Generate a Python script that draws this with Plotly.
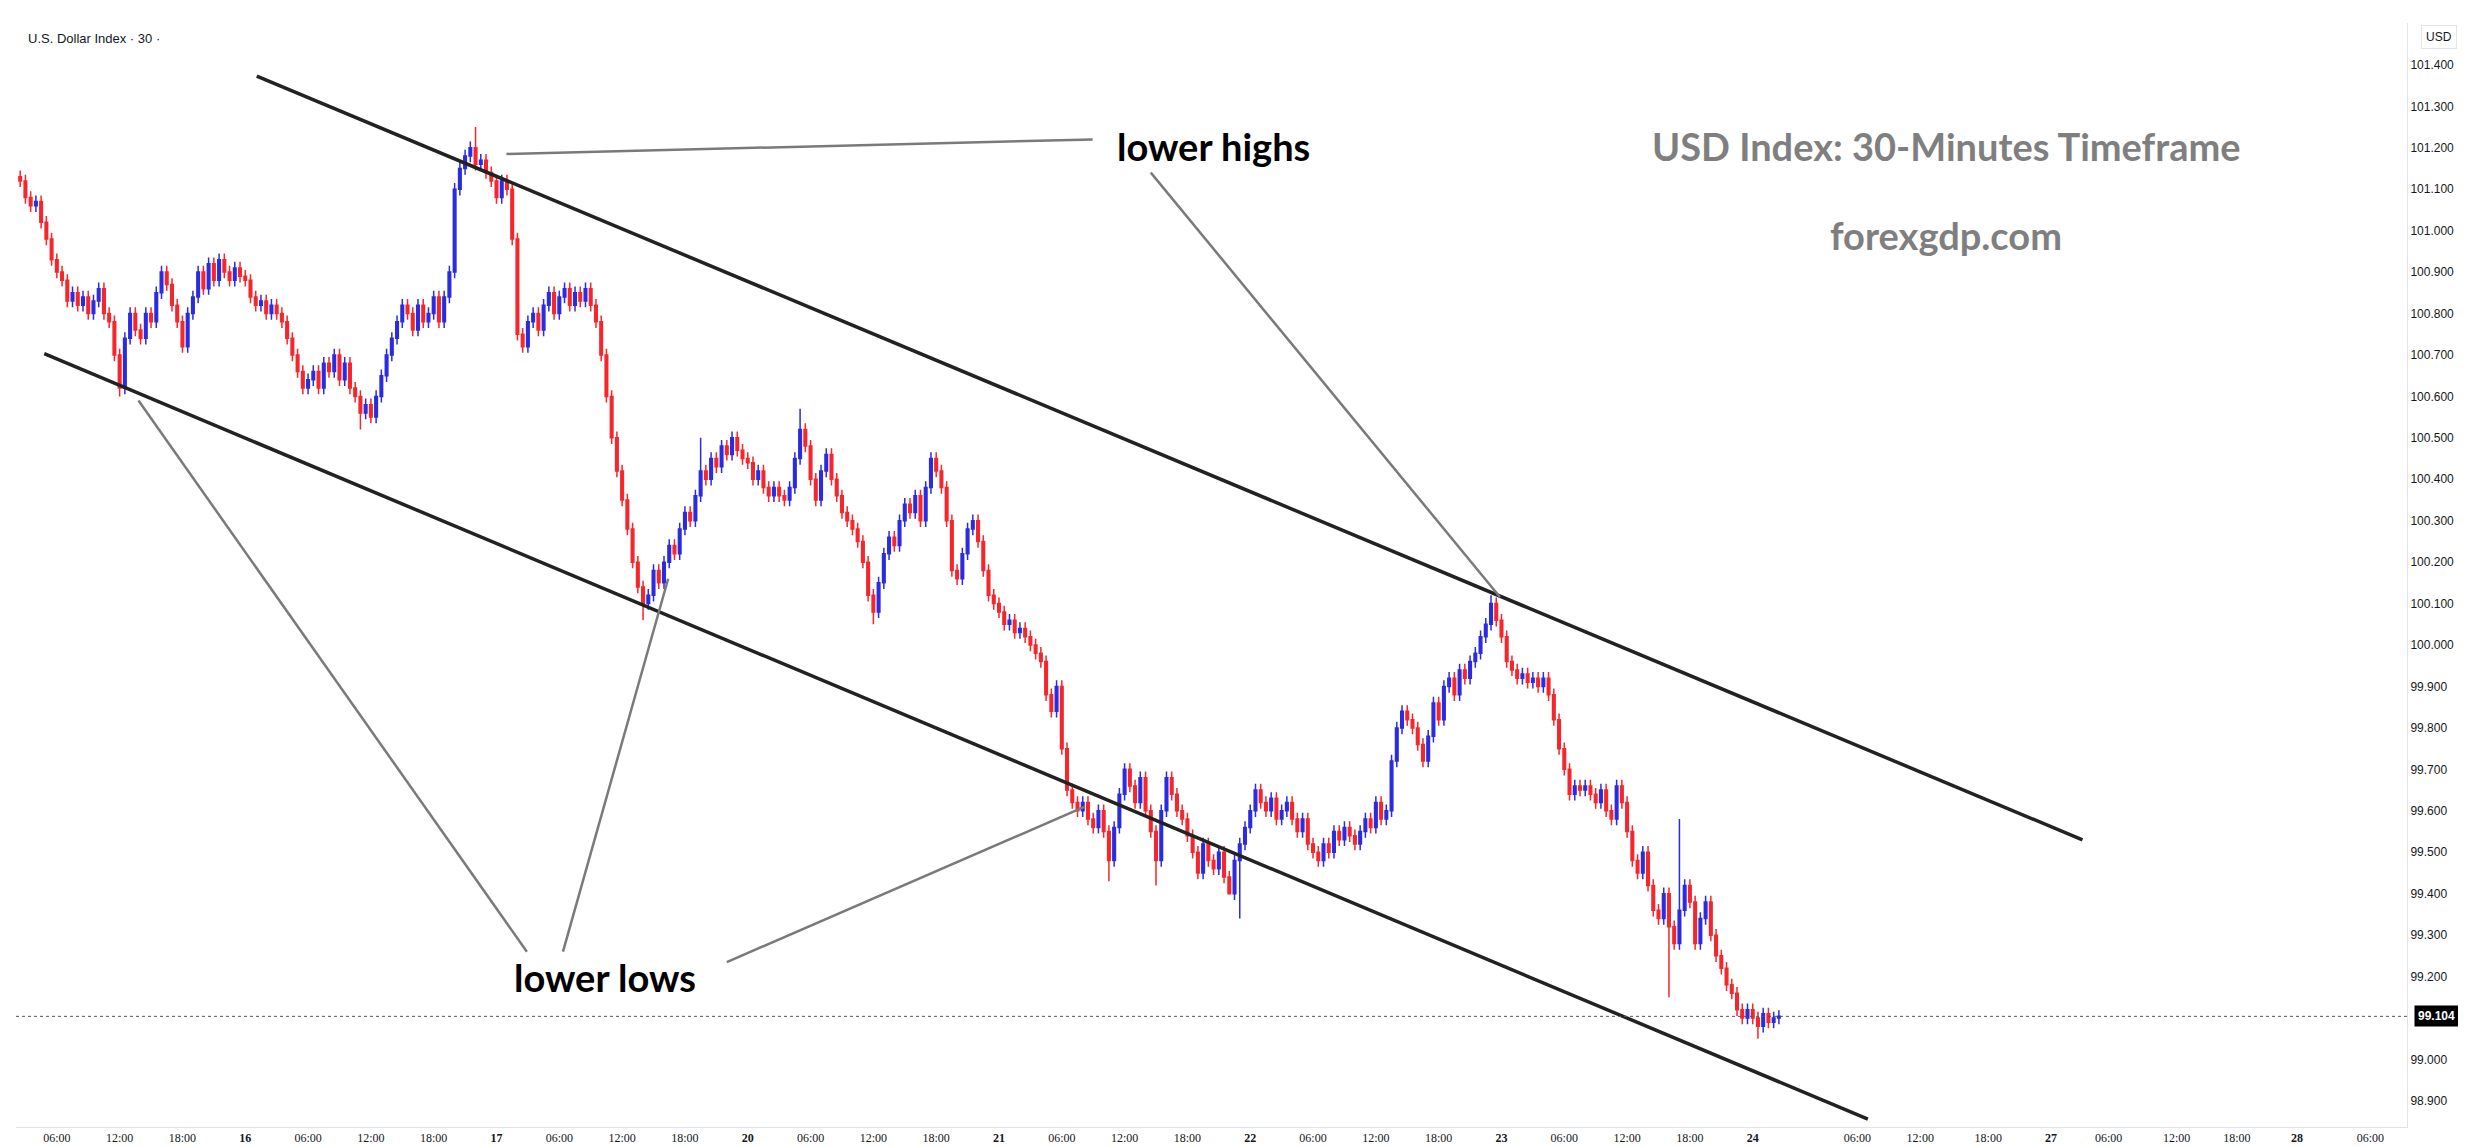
import plotly.graph_objects as go

# ---- data (30-minute closes) ----
day_starts = [5, 48, 96, 144, 192, 240, 288, 336]
closes_15 = [101.12,101.08,101.06,101.07,101.02,100.98,100.93,100.90,100.88,100.83,100.85,100.82,100.84,100.80,100.83,100.86,100.80,100.78,100.70,100.62,100.74,100.80,100.76,100.74,100.80,100.78,100.85,100.90,100.87,100.82,100.78,100.72,100.80,100.84,100.90,100.86,100.92,100.88,100.93,100.90,100.88,100.91,100.89]
closes_16 = [100.88,100.84,100.82,100.83,100.80,100.82,100.80,100.78,100.74,100.70,100.66,100.62,100.64,100.66,100.62,100.68,100.66,100.70,100.64,100.68,100.62,100.60,100.56,100.58,100.55,100.60,100.65,100.70,100.74,100.78,100.82,100.80,100.76,100.82,100.78,100.80,100.84,100.78,100.84,100.90,101.10,101.15,101.18,101.20,101.16,101.17,101.14,101.12]
closes_17 = [101.08,101.12,101.10,100.98,100.75,100.72,100.78,100.80,100.76,100.82,100.85,100.80,100.84,100.86,100.82,100.85,100.83,100.86,100.82,100.78,100.70,100.60,100.50,100.42,100.35,100.28,100.20,100.14,100.10,100.12,100.18,100.15,100.20,100.24,100.22,100.28,100.32,100.30,100.36,100.42,100.40,100.45,100.43,100.48,100.46,100.50,100.47,100.45]
closes_20 = [100.44,100.40,100.42,100.38,100.36,100.38,100.36,100.35,100.38,100.45,100.52,100.48,100.40,100.35,100.42,100.46,100.40,100.36,100.32,100.30,100.28,100.25,100.20,100.12,100.08,100.15,100.22,100.26,100.24,100.30,100.34,100.32,100.36,100.30,100.38,100.45,100.42,100.38,100.30,100.18,100.16,100.22,100.28,100.30,100.25,100.18,100.12,100.10]
closes_21 = [100.08,100.05,100.06,100.03,100.04,100.02,100.00,99.98,99.96,99.88,99.84,99.90,99.75,99.65,99.62,99.60,99.62,99.58,99.56,99.60,99.55,99.48,99.56,99.64,99.70,99.66,99.62,99.68,99.60,99.55,99.48,99.60,99.68,99.64,99.60,99.58,99.54,99.50,99.45,99.52,99.48,99.46,99.50,99.44,99.40,99.48,99.52,99.56]
closes_22 = [99.60,99.65,99.62,99.60,99.63,99.58,99.60,99.62,99.58,99.55,99.58,99.52,99.50,99.48,99.52,99.50,99.55,99.53,99.56,99.54,99.52,99.55,99.58,99.56,99.62,99.58,99.60,99.72,99.80,99.84,99.82,99.80,99.76,99.72,99.78,99.86,99.82,99.90,99.92,99.88,99.94,99.92,99.96,99.98,100.02,100.05,100.10,100.06]
closes_23 = [100.02,99.96,99.94,99.92,99.93,99.91,99.92,99.90,99.92,99.88,99.82,99.75,99.70,99.64,99.66,99.65,99.66,99.64,99.62,99.65,99.60,99.58,99.66,99.62,99.55,99.48,99.45,99.50,99.42,99.36,99.34,99.40,99.32,99.28,99.36,99.42,99.38,99.28,99.34,99.38,99.30,99.25,99.22,99.18,99.16,99.12,99.10,99.12]
closes_24 = [99.10,99.08,99.11,99.09,99.10,99.104]
first_open = 101.13
wick_pad = 0.015
extreme_highs = {92: 101.25, 154: 100.57, 286: 100.12, 322: 99.58, 135: 100.50}
extreme_lows = {24: 100.60, 70: 100.52, 124: 100.06, 168: 100.05, 213: 99.43, 222: 99.42, 236: 99.40, 238: 99.34, 320: 99.15, 337: 99.05}
last_price = 99.104

tick_pos = [12,24,36,48,60,72,84,96,108,120,132,144,156,168,180,192,204,216,228,240,252,264,276,288,300,312,324,336,356,368,381,393,404,417,428.5,440,454]
tick_text = ["06:00","12:00","18:00","16","06:00","12:00","18:00","17","06:00","12:00","18:00","20","06:00","12:00","18:00","21","06:00","12:00","18:00","22","06:00","12:00","18:00","23","06:00","12:00","18:00","24","06:00","12:00","18:00","27","06:00","12:00","18:00","28","06:00"]
bold_ticks = {"16","17","20","21","22","23","24","27","28"}
price_ticks = [98.9,99.0,99.2,99.3,99.4,99.5,99.6,99.7,99.8,99.9,100.0,100.1,100.2,100.3,100.4,100.5,100.6,100.7,100.8,100.9,101.0,101.1,101.2,101.3,101.4]

upper_channel = [(50.2, 101.373), (399.0, 99.53)]
lower_channel = [(9.6, 100.703), (358.0, 98.856)]

# ---- build candles ----
all_days = [closes_15, closes_16, closes_17, closes_20, closes_21, closes_22, closes_23, closes_24]
xs, o, h, l, c = [], [], [], [], []
prev = first_open
for start, day in zip(day_starts, all_days):
    for k, cl in enumerate(day):
        i = start + k
        xs.append(i); o.append(prev); c.append(cl)
        hi = max(prev, cl) + wick_pad
        lo = min(prev, cl) - wick_pad
        h.append(extreme_highs.get(i, hi)); l.append(extreme_lows.get(i, lo))
        prev = cl

BLUE = "#2b2be0"; RED = "#f5262c"
fig = go.Figure(go.Candlestick(
    x=xs, open=o, high=h, low=l, close=c,
    increasing=dict(line=dict(color=BLUE, width=1.5), fillcolor=BLUE),
    decreasing=dict(line=dict(color=RED, width=1.5), fillcolor=RED),
    whiskerwidth=0, showlegend=False, hoverinfo="skip"))

shapes = []
for (x0, y0), (x1, y1) in [upper_channel, lower_channel]:
    shapes.append(dict(type="line", xref="x", yref="y", x0=x0, y0=y0, x1=x1, y1=y1,
                       line=dict(color="#222222", width=3.5)))
gray_lines = [((97.9, 101.185), (209.9, 101.22)), ((221, 101.14), (287.7, 100.116)),
              ((101.8, 99.26), (27.6, 100.59)), ((108.7, 99.26), (128.8, 100.16)),
              ((140, 99.235), (208.4, 99.61))]
for (x0, y0), (x1, y1) in gray_lines:
    shapes.append(dict(type="line", xref="x", yref="y", x0=x0, y0=y0, x1=x1, y1=y1,
                       line=dict(color="#7a7a7a", width=2.5)))
shapes.append(dict(type="line", xref="paper", yref="y", x0=0, x1=1, y0=last_price, y1=last_price,
                   line=dict(color="#555555", width=1, dash="dot")))
fig.update_layout(shapes=shapes)

BF = "Lato"
ann = [
    dict(x=233, y=101.205, text="<b>lower highs</b>", font=dict(size=38, color="#000", family=BF)),
    dict(x=116.8, y=99.20, text="<b>lower lows</b>", font=dict(size=38, color="#000", family=BF)),
    dict(x=373, y=101.205, text="<b>USD Index: 30-Minutes Timeframe</b>", font=dict(size=38, color="#7f7f7f", family=BF)),
    dict(x=373, y=100.99, text="<b>forexgdp.com</b>", font=dict(size=38, color="#7f7f7f", family=BF)),
]
for a in ann:
    a.update(xref="x", yref="y", showarrow=False)
ann.append(dict(xref="paper", yref="paper", x=0.004, y=0.995, xanchor="left", yanchor="top", showarrow=False,
                text="U.S. Dollar Index · 30 ·", font=dict(size=13, color="#131722", family="Liberation Sans")))
ann.append(dict(xref="paper", yref="y", x=1.003, y=last_price, xanchor="left", showarrow=False,
                text="<b>99.104</b>", bgcolor="#000000", font=dict(size=12, color="white", family="Liberation Sans"),
                borderpad=3))
ann.append(dict(xref="paper", yref="paper", x=1.006, y=0.998, xanchor="left", yanchor="top", showarrow=False,
                text="USD", bgcolor="white", bordercolor="#e0e3eb", borderwidth=1, borderpad=4,
                font=dict(size=12, color="#131722", family="Liberation Sans")))
fig.update_layout(annotations=ann)

ticktext = ["<b>%s</b>" % t if t in bold_ticks else t for t in tick_text]
fig.update_layout(
    width=2466, height=1147, paper_bgcolor="white", plot_bgcolor="white",
    margin=dict(l=8, r=67, t=15, b=28),
    xaxis=dict(range=[4.2, 461], tickvals=tick_pos, ticktext=ticktext, showgrid=False, zeroline=False,
               rangeslider=dict(visible=False), showline=True, linecolor="#e0e3eb", automargin=False,
               tickfont=dict(size=12, color="#131722", family="Liberation Sans Narrow"), ticks=""),
    yaxis=dict(side="right", range=[98.837, 101.501], tickvals=price_ticks, ticktext=["%.3f" % v for v in price_ticks],
               showgrid=False, zeroline=False, showline=True, linecolor="#e0e3eb", ticks="", automargin=False,
               tickfont=dict(size=12, color="#131722", family="Liberation Sans")),
)
fig.write_html("out.html")
